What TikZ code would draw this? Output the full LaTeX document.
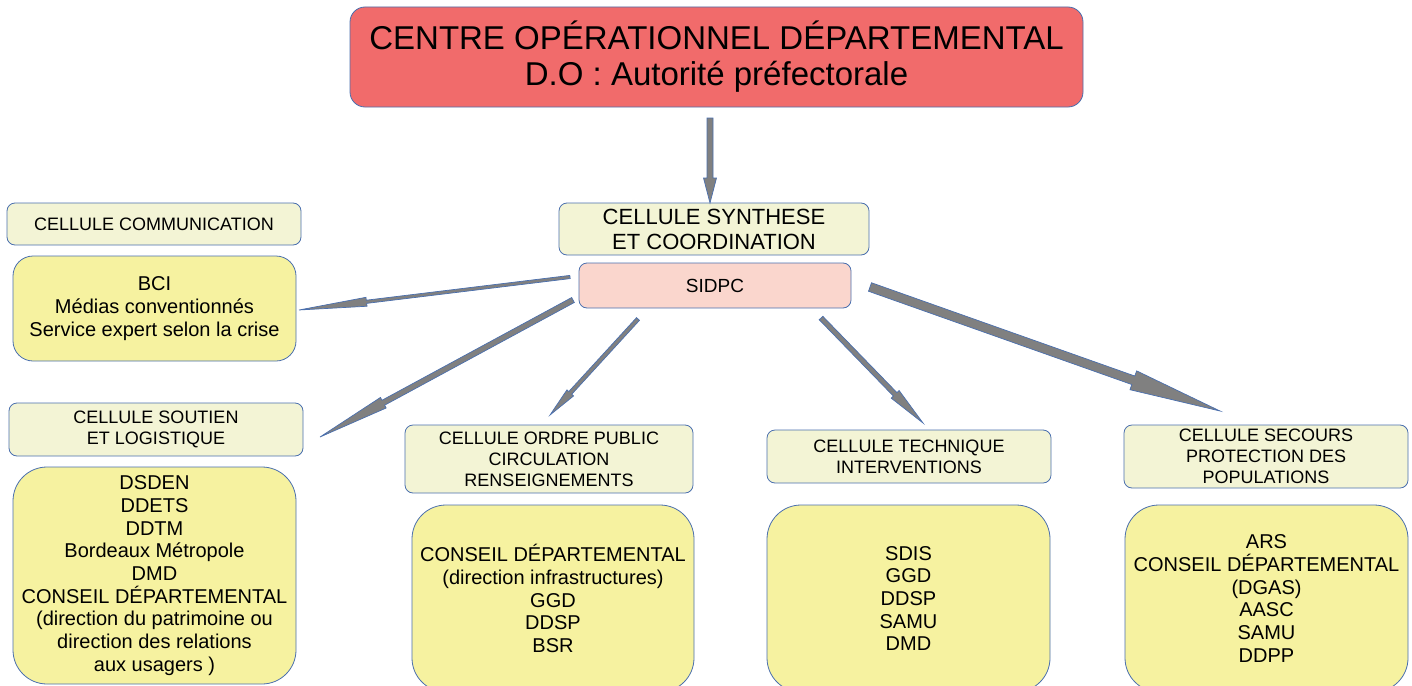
\documentclass[tikz,border=0pt]{standalone}
\usepackage{fontspec}
\setmainfont{Liberation Sans}
\usepackage{xcolor}
\usepackage{tikz}
\usetikzlibrary{calc}

\definecolor{edgeblue}{HTML}{4A6FAE}
\definecolor{headred}{HTML}{F16B6B}
\definecolor{cellfill}{HTML}{F3F4D5}
\definecolor{memberfill}{HTML}{F6F2A0}
\definecolor{sidpcfill}{HTML}{FAD6CD}
\definecolor{arrowgray}{HTML}{808080}

\tikzset{
    box/.style={draw=edgeblue, line width=0.8pt, align=center, inner sep=0pt},
    cell/.style={box, fill=cellfill, rounded corners=8pt, font=\fontsize{18}{21}\selectfont},
    members/.style={box, fill=memberfill, rounded corners=34pt, font=\fontsize{20}{22.7}\selectfont},
    blockarrow/.style={draw=edgeblue, line width=0.7pt, fill=arrowgray, line join=miter},
}

% block arrow: #1 start, #2 tip, #3 half shaft, #4 half head, #5 head length
\newcommand{\blockarrow}[5]{%
    \coordinate (ba-base) at ($(#2)!#5!(#1)$);
    \draw[blockarrow] ($(#1)!#3!90:(#2)$) -- ($(ba-base)!#3!90:(#2)$)
        -- ($(ba-base)!#4!90:(#2)$) -- (#2) -- ($(ba-base)!#4!-90:(#2)$)
        -- ($(ba-base)!#3!-90:(#2)$) -- ($(#1)!#3!-90:(#2)$) -- cycle;
}

\begin{document}
\begin{tikzpicture}[x=1pt, y=-1pt]
        \useasboundingbox (0,0) rectangle (1412,685);
        \clip (0,0) rectangle (1412,685);

        % Top of the chain:
        \node[box, fill=headred, rounded corners=15pt, minimum width=733pt, minimum height=100pt,
              font=\fontsize{33}{36}\selectfont] (cod) at (716.5,57)
              {CENTRE OPÉRATIONNEL DÉPARTEMENTAL\\D.O : Autorité préfectorale};

        \node[cell, minimum width=310pt, minimum height=52pt, font=\fontsize{22}{25}\selectfont]
              (synthese) at (714,229) {CELLULE SYNTHESE\\ET COORDINATION};
        \node[box, fill=sidpcfill, rounded corners=8pt, minimum width=272pt, minimum height=45pt,
              font=\fontsize{19}{22}\selectfont] (sidpc) at (715,285.5) {SIDPC};

        % Cells (header + members):
        \node[cell, minimum width=294pt, minimum height=42pt] (comm) at (154,224) {CELLULE COMMUNICATION};
        \node[members, rounded corners=20pt, minimum width=283pt, minimum height=105pt] (commm) at (154.5,308.5)
              {BCI\\Médias conventionnés\\Service expert selon la crise};

        \node[cell, minimum width=294pt, minimum height=53pt] (soutien) at (156,429.5) {CELLULE SOUTIEN\\ET LOGISTIQUE};
        \node[members, minimum width=283pt, minimum height=217pt] (soutienm) at (154.5,575.5)
              {DSDEN\\DDETS\\DDTM\\Bordeaux Métropole\\DMD\\CONSEIL DÉPARTEMENTAL\\(direction du patrimoine ou\\direction des relations\\aux usagers )};

        \node[cell, minimum width=288pt, minimum height=68pt] (ordre) at (549,459)
              {CELLULE ORDRE PUBLIC\\CIRCULATION\\RENSEIGNEMENTS};
        \node[members, minimum width=282pt, minimum height=187pt] (ordrem) at (553,598.5)
              {CONSEIL DÉPARTEMENTAL\\(direction infrastructures)\\GGD\\DDSP\\BSR};

        \node[cell, minimum width=284pt, minimum height=53pt] (technique) at (909,456.5)
              {CELLULE TECHNIQUE\\INTERVENTIONS};
        \node[members, minimum width=283pt, minimum height=187pt] (techniquem) at (908.5,598.5)
              {SDIS\\GGD\\DDSP\\SAMU\\DMD};

        \node[cell, minimum width=284pt, minimum height=63pt] (secours) at (1266,456.5)
              {CELLULE SECOURS\\PROTECTION DES\\POPULATIONS};
        \node[members, minimum width=283pt, minimum height=187pt] (secoursm) at (1266.5,598.5)
              {ARS\\CONSEIL DÉPARTEMENTAL\\(DGAS)\\AASC\\SAMU\\DDPP};

        % Arrow ends
        \coordinate (down0) at (710,118);
        \coordinate (down1) at (710,203);
        \coordinate (s1) at (570,277);   \coordinate (t1) at (299,310);
        \coordinate (s2) at (573,300);   \coordinate (t2) at (320,437);
        \coordinate (s3) at (638,319);   \coordinate (t3) at (550,415);
        \coordinate (s4) at (821,318);   \coordinate (t4) at (923,423);
        \coordinate (s5) at (870,287);   \coordinate (t5) at (1220,411);

        \blockarrow{down0}{down1}{3pt}{6.5pt}{25pt}
        \blockarrow{s1}{t1}{1.6pt}{4.5pt}{68pt}
        \blockarrow{s2}{t2}{2.8pt}{6pt}{72pt}
        \blockarrow{s3}{t3}{2pt}{4.5pt}{30pt}
        \blockarrow{s4}{t4}{2.5pt}{5.5pt}{40pt}
        \blockarrow{s5}{t5}{4.5pt}{10pt}{92pt}
\end{tikzpicture}
\end{document}
